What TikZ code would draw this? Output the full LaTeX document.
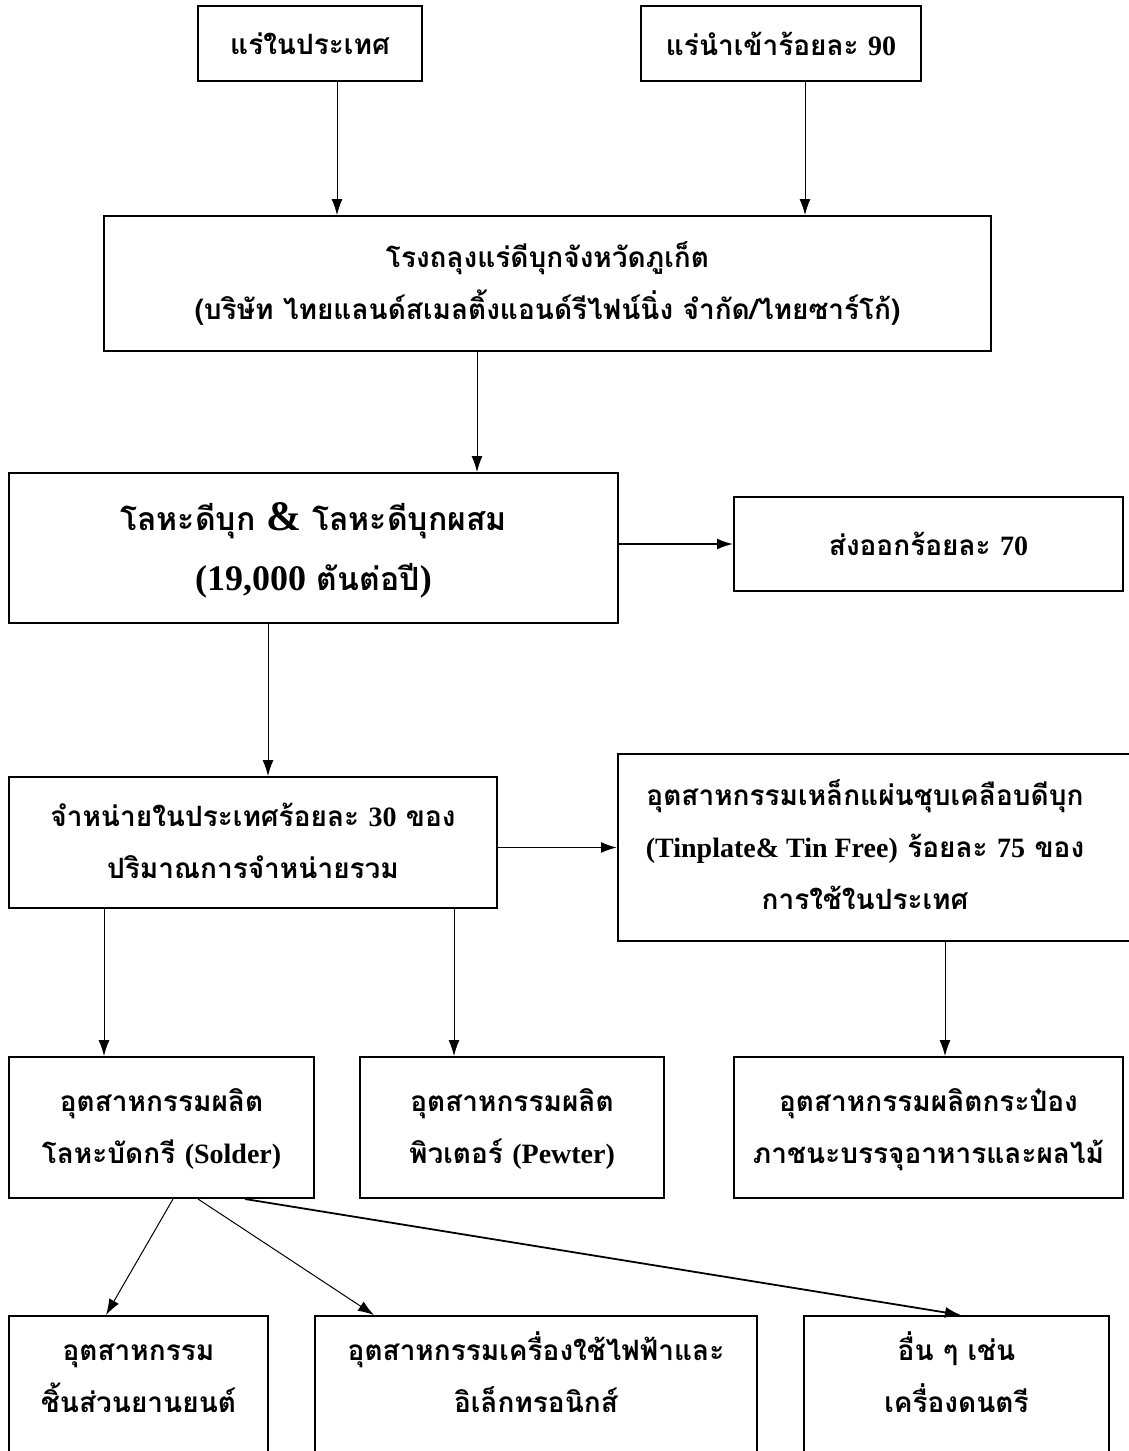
\documentclass[tikz,border=0pt]{standalone}
\usepackage{fontspec}
\setmainfont[Script=Thai]{Loma}
\newfontfamily\latinfont{Liberation Serif}
\usetikzlibrary{arrows,arrows.meta,positioning}
\newcommand{\lt}[1]{{\latinfont\bfseries #1}}
\tikzset{
	line/.style={draw, line width=1pt, -{Latex[length=16pt,width=11pt]}},
	thickline/.style={line, line width=1.8pt},
	txt/.style={font={\fontsize{28}{52}\selectfont\bfseries}},
	big/.style={font={\fontsize{32}{60}\selectfont\bfseries}}
}
\tikzstyle{box} =
	[
		draw,
		line width=2pt,
		txt,
		inner sep=0pt
	]

\begin{document}
\begin{tikzpicture}[x=1pt, y=-1pt]
	\useasboundingbox (0,0) rectangle (1129,1451);
	\clip (0,0) rectangle (1129,1451);
	% sources
	\node[box, minimum width=224, minimum height=75] (ore) at (310,43.5) {แร่ในประเทศ};
	\node[box, minimum width=280, minimum height=75] (import) at (781,43.5) {แร่นำเข้าร้อยละ \lt{90}};
	\node[box, minimum width=887, minimum height=135] (smelter) at (547.5,283.5) {
		\begin{tabular}{c}
			โรงถลุงแร่ดีบุกจังหวัดภูเก็ต \\
			(บริษัท ไทยแลนด์สเมลติ้งแอนด์รีไฟน์นิ่ง จำกัด/ไทยซาร์โก้)
		\end{tabular}
	};
	% metal
	\node[box, big, minimum width=609, minimum height=150] (tin) at (313.5,548) {
		\begin{tabular}{c}
			โลหะดีบุก {\fontsize{42}{60}\selectfont\lt{\&}} โลหะดีบุกผสม \\
			{\fontsize{36}{60}\selectfont\lt{(19,000}} ตันต่อปี{\fontsize{36}{60}\selectfont\lt{)}}
		\end{tabular}
	};
	\node[box, minimum width=389, minimum height=94] (export) at (928.5,544) {ส่งออกร้อยละ \lt{70}};
	% domestic use
	\node[box, minimum width=488, minimum height=131] (domestic) at (253,842.5) {
		\begin{tabular}{c}
			จำหน่ายในประเทศร้อยละ \lt{30} ของ \\
			ปริมาณการจำหน่ายรวม
		\end{tabular}
	};
	\node[box, minimum width=540, minimum height=187] (tinplate) at (888,847.5) {
		\begin{tabular}{c}
			อุตสาหกรรมเหล็กแผ่นชุบเคลือบดีบุก \\
			\lt{(Tinplate\& Tin Free)} ร้อยละ \lt{75} ของ \\
			การใช้ในประเทศ
		\end{tabular}\hspace*{46pt}
	};
	% industries
	\node[box, minimum width=305, minimum height=141] (solder) at (161.5,1127.5) {
		\begin{tabular}{c}
			อุตสาหกรรมผลิต \\
			โลหะบัดกรี \lt{(Solder)}
		\end{tabular}
	};
	\node[box, minimum width=304, minimum height=141] (pewter) at (512,1127.5) {
		\begin{tabular}{c}
			อุตสาหกรรมผลิต \\
			พิวเตอร์ \lt{(Pewter)}
		\end{tabular}
	};
	\node[box, minimum width=389, minimum height=141] (cans) at (928.5,1127.5) {
		\begin{tabular}{c}
			อุตสาหกรรมผลิตกระป๋อง \\
			ภาชนะบรรจุอาหารและผลไม้
		\end{tabular}
	};
	% solder users
	\node[box, anchor=north, minimum width=259, text depth=150pt, inner ysep=8pt] (auto) at (138.5,1315) {
		\begin{tabular}{c}
			อุตสาหกรรม \\
			ชิ้นส่วนยานยนต์
		\end{tabular}
	};
	\node[box, anchor=north, minimum width=442, text depth=150pt, inner ysep=8pt] (electric) at (536,1315) {
		\begin{tabular}{c}
			อุตสาหกรรมเครื่องใช้ไฟฟ้าและ \\
			อิเล็กทรอนิกส์
		\end{tabular}
	};
	\node[box, anchor=north, minimum width=305, text depth=150pt, inner ysep=8pt] (others) at (956.5,1315) {
		\begin{tabular}{c}
			อื่น ๆ เช่น \\
			เครื่องดนตรี
		\end{tabular}
	};
	% arrows
	\path[line] (ore.south -| 337,0) -- (smelter.north -| 337,0);
	\path[line] (import.south -| 805,0) -- (smelter.north -| 805,0);
	\path[line] (smelter.south -| 477,0) -- (tin.north -| 477,0);
	\path[thickline] (tin.east |- export.west) -- (export.west);
	\path[line] (tin.south -| 268,0) -- (domestic.north -| 268,0);
	\path[thickline] (domestic.east |- tinplate.west) -- (tinplate.west);
	\path[line] (domestic.south -| 104,0) -- (solder.north -| 104,0);
	\path[line] (domestic.south -| 454,0) -- (pewter.north -| 454,0);
	\path[line] (tinplate.south -| 945,0) -- (cans.north -| 945,0);
	\path[line] (solder.south -| 173,0) -- (auto.north -| 106,0);
	\path[line] (solder.south -| 198,0) -- (electric.north -| 374,0);
	\path[thickline] (solder.south -| 245,0) -- (others.north -| 961,0);
\end{tikzpicture}
\end{document}
